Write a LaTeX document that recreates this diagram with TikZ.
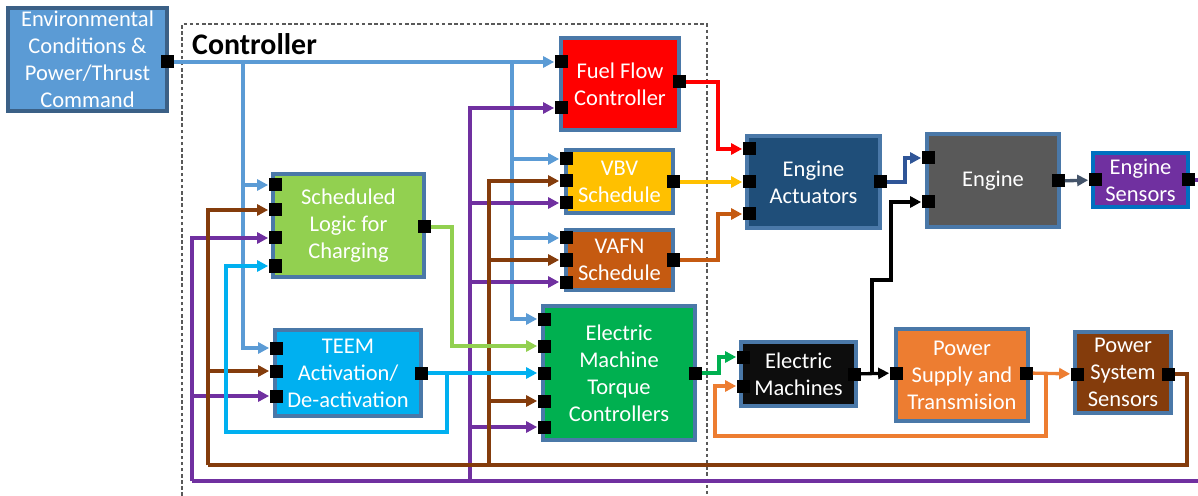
\documentclass[tikz,border=0pt]{standalone}
\usepackage{fontspec}
\setmainfont{Carlito}
\usepackage{tikz}
\usetikzlibrary{arrows.meta}
\definecolor{envblue}{HTML}{5B9BD5}
\definecolor{edgeblue}{HTML}{4A78A8}
\definecolor{fuelred}{HTML}{FF0000}
\definecolor{vbvyel}{HTML}{FFC000}
\definecolor{vafnorg}{HTML}{C55A11}
\definecolor{slcgrn}{HTML}{92D050}
\definecolor{teemcyan}{HTML}{00B0F0}
\definecolor{emtcgrn}{HTML}{00B050}
\definecolor{actblue}{HTML}{1F4E79}
\definecolor{enggray}{HTML}{595959}
\definecolor{senspur}{HTML}{7030A0}
\definecolor{sensedge}{HTML}{0070C0}
\definecolor{emblack}{HTML}{0D0D0D}
\definecolor{pstorg}{HTML}{ED7D31}
\definecolor{pssbrn}{HTML}{843C0C}
\definecolor{engblue}{HTML}{2F5597}
\definecolor{slate}{HTML}{44546A}
\tikzset{
  blk/.style={draw=edgeblue,line width=2pt,text=white,align=center,inner sep=0pt,font=\fontsize{12.8}{15.4}\selectfont},
  pt/.style={fill=black,minimum size=2.6mm,inner sep=0pt},
  wire/.style={line width=1.9pt,-{Triangle[length=2.2mm,width=2.2mm]}},
  cmdw/.style={wire,draw=envblue},
  fbw/.style={wire,draw=senspur},
  pwrw/.style={wire,draw=pssbrn},
  chgw/.style={wire,draw=slcgrn},
  teemw/.style={wire,draw=teemcyan},
  cut/.style={dash pattern=on 2pt off 1.5pt,gray!70!black,line width=0.6pt}
}
\newcommand{\portsq}[2]{\node[pt] (#1) at (#2) {};}

\begin{document}
\begin{tikzpicture}[x=0.2mm,y=-0.2mm]
\useasboundingbox (0,0) rectangle (1198,496);
% controller frame
\draw[cut] (182,496) -- (182,24) -- (707,24) -- (707,496);
\node[anchor=west,font=\fontsize{17}{20}\selectfont\bfseries] (ctrl) at (186,44) {Controller};
% blocks
\node[blk,draw=edgeblue!80!black,fill=envblue,minimum width=31.8mm,minimum height=20.6mm] (env) at (87.5,59.5) {Environmental\\Conditions \&\\Power/Thrust\\Command};
\node[blk,fill=fuelred,minimum width=23.6mm,minimum height=18.4mm] (fuel) at (620,84) {Fuel Flow\\Controller};
\node[blk,fill=vbvyel,minimum width=21.4mm,minimum height=12.6mm] (vbv) at (619.5,181.5) {VBV\\Schedule};
\node[blk,fill=vafnorg,minimum width=21.4mm,minimum height=12mm] (vafn) at (619.5,260) {VAFN\\Schedule};
\node[blk,fill=slcgrn,minimum width=30.2mm,minimum height=20.6mm] (slc) at (348.5,225.5) {Scheduled\\Logic for\\Charging};
\node[blk,fill=teemcyan,minimum width=29.2mm,minimum height=17.2mm] (teem) at (348,373) {TEEM\\Activation/\\De-activation};
\node[blk,fill=emtcgrn,minimum width=30.4mm,minimum height=26.8mm] (emtc) at (619,373) {Electric\\Machine\\Torque\\Controllers};
\node[blk,fill=actblue,minimum width=26.6mm,minimum height=18.4mm] (act) at (813.5,182) {Engine\\Actuators};
\node[blk,fill=enggray,minimum width=26.4mm,minimum height=18.6mm] (eng) at (993,180.5) {Engine};
\node[blk,draw=sensedge,fill=senspur,minimum width=19mm,minimum height=10.8mm] (es) at (1140.5,180) {Engine\\Sensors};
\node[blk,fill=emblack,minimum width=23mm,minimum height=12.8mm] (em) at (798.5,374) {Electric\\Machines};
\node[blk,fill=pstorg,minimum width=26.4mm,minimum height=18.4mm] (pst) at (962,375) {Power\\Supply and\\Transmision};
\node[blk,fill=pssbrn,minimum width=19.2mm,minimum height=16.2mm] (pss) at (1123,372.5) {Power\\System\\Sensors};
% ports
\portsq{env-out}{167,62}
\portsq{fuel-in1}{561,62} \portsq{fuel-in2}{561,108} \portsq{fuel-out}{679,82}
\portsq{vbv-in1}{566,159} \portsq{vbv-in2}{566,181} \portsq{vbv-in3}{566,203} \portsq{vbv-out}{673,182}
\portsq{vafn-in1}{566,238} \portsq{vafn-in2}{566,260} \portsq{vafn-in3}{566,282} \portsq{vafn-out}{673,260}
\portsq{slc-in1}{275,185} \portsq{slc-in2}{275,210} \portsq{slc-in3}{275,238} \portsq{slc-in4}{275,266} \portsq{slc-out}{424,227}
\portsq{teem-in1}{276,348} \portsq{teem-in2}{276,371} \portsq{teem-in3}{276,396} \portsq{teem-out}{421,373}
\portsq{emtc-in1}{544,319} \portsq{emtc-in2}{544,346} \portsq{emtc-in3}{544,373} \portsq{emtc-in4}{544,401} \portsq{emtc-in5}{544,427} \portsq{emtc-out}{695,373}
\portsq{act-in1}{749,149} \portsq{act-in2}{749,182} \portsq{act-in3}{749,214} \portsq{act-out}{880,182}
\portsq{eng-in1}{928,158} \portsq{eng-in2}{928,202} \portsq{eng-out}{1058,181}
\portsq{es-in}{1095,180} \portsq{es-out}{1188,180}
\portsq{em-in1}{743,357} \portsq{em-in2}{743,386} \portsq{em-out}{854,374}
\portsq{pst-in}{896,373} \portsq{pst-out}{1026,373}
\portsq{pss-in}{1077,374} \portsq{pss-out}{1168,374}
% command bus
\coordinate (cmd1) at (243,62); \coordinate (cmd2) at (512,62);
\draw[cmdw] (env-out) -- (fuel-in1);
\draw[cmdw] (cmd1) |- (slc-in1); \draw[cmdw] (cmd1) |- (teem-in1);
\draw[cmdw] (cmd2) |- (vbv-in1); \draw[cmdw] (cmd2) |- (vafn-in1); \draw[cmdw] (cmd2) |- (emtc-in1);
% engine sensor feedback
\coordinate (fb1) at (192,481); \coordinate (fb2) at (470,481); \coordinate (fb3) at (1215,481);
\draw[fbw,-] (es-out) -| (fb3) -- (fb1);
\draw[fbw] (fb1) |- (slc-in3); \draw[fbw] (fb1) |- (teem-in3);
\draw[fbw] (fb2) |- (fuel-in2); \draw[fbw] (fb2) |- (vbv-in3); \draw[fbw] (fb2) |- (vafn-in3); \draw[fbw] (fb2) |- (emtc-in5);
% power sensor feedback
\coordinate (pw1) at (208,465); \coordinate (pw2) at (489,465); \coordinate (pw3) at (1187,465);
\draw[pwrw,-] (pss-out) -| (pw3) -- (pw1);
\draw[pwrw] (pw1) |- (slc-in2); \draw[pwrw] (pw1) |- (teem-in2);
\draw[pwrw] (pw2) |- (vbv-in2); \draw[pwrw] (pw2) |- (vafn-in2); \draw[pwrw] (pw2) |- (emtc-in4);
% charging logic and TEEM
\coordinate (chg1) at (452,346);
\draw[chgw] (slc-out) -| (chg1) -- (emtc-in2);
\coordinate (tm1) at (447,373); \coordinate (tm2) at (226,432);
\draw[teemw] (teem-out) -- (emtc-in3);
\draw[teemw] (tm1) |- (tm2) |- (slc-in4);
% actuator side
\coordinate (ff1) at (718,149); \coordinate (va1) at (718,214); \coordinate (ac1) at (905,158);
\draw[wire,draw=fuelred] (fuel-out) -| (ff1) -- (act-in1);
\draw[wire,draw=vbvyel] (vbv-out) -- (act-in2);
\draw[wire,draw=vafnorg] (vafn-out) -| (va1) -- (act-in3);
\draw[wire,draw=engblue] (act-out) -| (ac1) -- (eng-in1);
\draw[wire,draw=slate] (eng-out) -- (es-in);
% electric side
\coordinate (tq1) at (719,357); \coordinate (mc1) at (872,374); \coordinate (mc2) at (891,280);
\coordinate (ps1) at (1046,373); \coordinate (ps2) at (715,436);
\draw[wire,draw=emtcgrn] (emtc-out) -| (tq1) -- (em-in1);
\draw[wire,draw=black] (em-out) -- (pst-in);
\draw[wire,draw=black] (mc1) |- (mc2) |- (eng-in2);
\draw[wire,draw=pstorg] (pst-out) -- (pss-in);
\draw[wire,draw=pstorg] (ps1) |- (ps2) |- (em-in2);
\end{tikzpicture}
\end{document}
